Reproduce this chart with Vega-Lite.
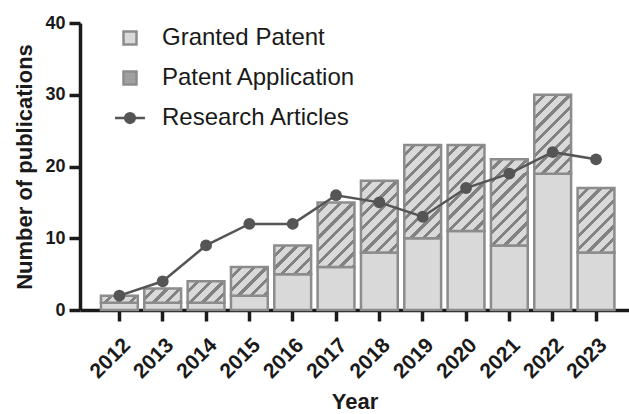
{
  "$schema": "https://vega.github.io/schema/vega-lite/v6.json",
  "width": 549,
  "height": 287,
  "autosize": {"type": "none"},
  "padding": {"left": 80, "top": 23, "right": 0, "bottom": 104},
  "background": "white",
  "config": {
    "view": {"stroke": null},
    "font": "Liberation Sans",
    "axis": {
      "domainColor": "#1a1a1a",
      "domainWidth": 3.5,
      "tickColor": "#1a1a1a",
      "tickWidth": 3.5,
      "tickSize": 11,
      "grid": false,
      "labelFont": "Liberation Sans",
      "labelFontWeight": "bold",
      "labelColor": "#1a1a1a",
      "titleFont": "Liberation Sans",
      "titleFontWeight": "bold",
      "titleFontSize": 22,
      "titleColor": "#1a1a1a"
    }
  },
  "data": {
    "values": [
      {"year": "2012", "series": "Granted Patent", "count": 1},
      {"year": "2012", "series": "Patent Application", "count": 1},
      {"year": "2012", "series": "Research Articles", "count": 2},
      {"year": "2013", "series": "Granted Patent", "count": 1},
      {"year": "2013", "series": "Patent Application", "count": 2},
      {"year": "2013", "series": "Research Articles", "count": 4},
      {"year": "2014", "series": "Granted Patent", "count": 1},
      {"year": "2014", "series": "Patent Application", "count": 3},
      {"year": "2014", "series": "Research Articles", "count": 9},
      {"year": "2015", "series": "Granted Patent", "count": 2},
      {"year": "2015", "series": "Patent Application", "count": 4},
      {"year": "2015", "series": "Research Articles", "count": 12},
      {"year": "2016", "series": "Granted Patent", "count": 5},
      {"year": "2016", "series": "Patent Application", "count": 4},
      {"year": "2016", "series": "Research Articles", "count": 12},
      {"year": "2017", "series": "Granted Patent", "count": 6},
      {"year": "2017", "series": "Patent Application", "count": 9},
      {"year": "2017", "series": "Research Articles", "count": 16},
      {"year": "2018", "series": "Granted Patent", "count": 8},
      {"year": "2018", "series": "Patent Application", "count": 10},
      {"year": "2018", "series": "Research Articles", "count": 15},
      {"year": "2019", "series": "Granted Patent", "count": 10},
      {"year": "2019", "series": "Patent Application", "count": 13},
      {"year": "2019", "series": "Research Articles", "count": 13},
      {"year": "2020", "series": "Granted Patent", "count": 11},
      {"year": "2020", "series": "Patent Application", "count": 12},
      {"year": "2020", "series": "Research Articles", "count": 17},
      {"year": "2021", "series": "Granted Patent", "count": 9},
      {"year": "2021", "series": "Patent Application", "count": 12},
      {"year": "2021", "series": "Research Articles", "count": 19},
      {"year": "2022", "series": "Granted Patent", "count": 19},
      {"year": "2022", "series": "Patent Application", "count": 11},
      {"year": "2022", "series": "Research Articles", "count": 22},
      {"year": "2023", "series": "Granted Patent", "count": 8},
      {"year": "2023", "series": "Patent Application", "count": 9},
      {"year": "2023", "series": "Research Articles", "count": 21}
    ]
  },
  "layer": [
    {
      "transform": [{"filter": "datum.series !== 'Research Articles'"}],
      "mark": {"type": "bar", "stroke": "#8c8c8c", "strokeWidth": 2.5},
      "encoding": {
        "x": {
          "field": "year", "type": "nominal",
          "scale": {"paddingInner": 0.15, "paddingOuter": 0.41, "align": 0.59},
          "axis": {"title": "Year", "labelAngle": -45, "labelFontSize": 21, "labelPadding": 13, "titlePadding": 10}
        },
        "y": {
          "field": "count", "type": "quantitative", "stack": "zero",
          "scale": {"domain": [0, 40], "nice": false},
          "axis": {"title": "Number of publications", "values": [0, 10, 20, 30, 40], "labelFontSize": 18, "labelPadding": 4, "titlePadding": 8}
        },
        "order": {"field": "series", "sort": "ascending"},
        "fill": {
          "field": "series", "type": "nominal",
          "scale": {"domain": ["Granted Patent", "Patent Application", "Research Articles"], "range": ["#d9d9d9", "#a0a0a0", "#555555"]},
          "legend": {
            "title": null,
            "orient": "none",
            "legendX": 38,
            "legendY": 3,
            "padding": 0,
            "labelFont": "Liberation Sans",
            "labelFontSize": 24,
            "labelColor": "#1a1a1a",
            "labelLimit": 500,
            "labelOffset": 20,
            "rowPadding": 16,
            "symbolSize": 169,
            "encoding": {
              "symbols": {
                "shape": {
                  "condition": {"test": "datum.value === 'Research Articles'", "value": "M-2.3,0H2.3M0.75,0A0.75,0.75,0,1,1,-0.75,0A0.75,0.75,0,1,1,0.75,0Z"},
                  "value": "square"
                },
                "stroke": {
                  "condition": {"test": "datum.value === 'Research Articles'", "value": "#555555"},
                  "value": "#8c8c8c"
                },
                "strokeWidth": {"value": 2.5},
                "opacity": {"value": 1}
              }
            }
          },
          "condition": [
            {"test": "datum.series === 'Patent Application' && datum.count === 1", "value": {"gradient": "linear", "x1": 0, "y1": 0, "x2": 1.151, "y2": 0.2245, "stops": [
              {"offset": 0, "color": "#d9d9d9"}, {"offset": 0.1927, "color": "#d9d9d9"}, {"offset": 0.1927, "color": "#828282"}, {"offset": 0.289, "color": "#828282"}, {"offset": 0.289, "color": "#d9d9d9"},
              {"offset": 0.4817, "color": "#d9d9d9"}, {"offset": 0.4817, "color": "#828282"}, {"offset": 0.578, "color": "#828282"}, {"offset": 0.578, "color": "#d9d9d9"},
              {"offset": 0.7707, "color": "#d9d9d9"}, {"offset": 0.7707, "color": "#828282"}, {"offset": 0.8671, "color": "#828282"}, {"offset": 0.8671, "color": "#d9d9d9"}, {"offset": 1, "color": "#d9d9d9"}]}},
            {"test": "datum.series === 'Patent Application' && datum.count === 2", "value": {"gradient": "linear", "x1": 0, "y1": 0, "x2": 1.2065, "y2": 0.4705, "stops": [
              {"offset": 0, "color": "#d9d9d9"}, {"offset": 0.1658, "color": "#d9d9d9"}, {"offset": 0.1658, "color": "#828282"}, {"offset": 0.2488, "color": "#828282"}, {"offset": 0.2488, "color": "#d9d9d9"},
              {"offset": 0.4146, "color": "#d9d9d9"}, {"offset": 0.4146, "color": "#828282"}, {"offset": 0.4975, "color": "#828282"}, {"offset": 0.4975, "color": "#d9d9d9"},
              {"offset": 0.6633, "color": "#d9d9d9"}, {"offset": 0.6633, "color": "#828282"}, {"offset": 0.7463, "color": "#828282"}, {"offset": 0.7463, "color": "#d9d9d9"},
              {"offset": 0.9121, "color": "#d9d9d9"}, {"offset": 0.9121, "color": "#828282"}, {"offset": 0.995, "color": "#828282"}, {"offset": 0.995, "color": "#d9d9d9"}, {"offset": 1, "color": "#d9d9d9"}]}},
            {"test": "datum.series === 'Patent Application' && datum.count === 3", "value": {"gradient": "linear", "x1": 0, "y1": 0, "x2": 1.181, "y2": 0.691, "stops": [
              {"offset": 0, "color": "#d9d9d9"}, {"offset": 0.1456, "color": "#d9d9d9"}, {"offset": 0.1456, "color": "#828282"}, {"offset": 0.2183, "color": "#828282"}, {"offset": 0.2183, "color": "#d9d9d9"},
              {"offset": 0.3639, "color": "#d9d9d9"}, {"offset": 0.3639, "color": "#828282"}, {"offset": 0.4367, "color": "#828282"}, {"offset": 0.4367, "color": "#d9d9d9"},
              {"offset": 0.5822, "color": "#d9d9d9"}, {"offset": 0.5822, "color": "#828282"}, {"offset": 0.655, "color": "#828282"}, {"offset": 0.655, "color": "#d9d9d9"},
              {"offset": 0.8006, "color": "#d9d9d9"}, {"offset": 0.8006, "color": "#828282"}, {"offset": 0.8734, "color": "#828282"}, {"offset": 0.8734, "color": "#d9d9d9"}, {"offset": 1, "color": "#d9d9d9"}]}},
            {"test": "datum.series === 'Patent Application' && datum.count === 4", "value": {"gradient": "linear", "x1": 0, "y1": 0, "x2": 1.1067, "y2": 0.863, "stops": [
              {"offset": 0, "color": "#d9d9d9"}, {"offset": 0.1297, "color": "#d9d9d9"}, {"offset": 0.1297, "color": "#828282"}, {"offset": 0.1946, "color": "#828282"}, {"offset": 0.1946, "color": "#d9d9d9"},
              {"offset": 0.3243, "color": "#d9d9d9"}, {"offset": 0.3243, "color": "#828282"}, {"offset": 0.3891, "color": "#828282"}, {"offset": 0.3891, "color": "#d9d9d9"},
              {"offset": 0.5188, "color": "#d9d9d9"}, {"offset": 0.5188, "color": "#828282"}, {"offset": 0.5837, "color": "#828282"}, {"offset": 0.5837, "color": "#d9d9d9"},
              {"offset": 0.7134, "color": "#d9d9d9"}, {"offset": 0.7134, "color": "#828282"}, {"offset": 0.7782, "color": "#828282"}, {"offset": 0.7782, "color": "#d9d9d9"},
              {"offset": 0.9079, "color": "#d9d9d9"}, {"offset": 0.9079, "color": "#828282"}, {"offset": 0.9728, "color": "#828282"}, {"offset": 0.9728, "color": "#d9d9d9"}, {"offset": 1, "color": "#d9d9d9"}]}},
            {"test": "datum.series === 'Patent Application' && datum.count === 9", "value": {"gradient": "linear", "x1": 0, "y1": 0, "x2": 0.675, "y2": 1.185, "stops": [
              {"offset": 0, "color": "#d9d9d9"}, {"offset": 0.0838, "color": "#d9d9d9"}, {"offset": 0.0838, "color": "#828282"}, {"offset": 0.1256, "color": "#828282"}, {"offset": 0.1256, "color": "#d9d9d9"},
              {"offset": 0.2094, "color": "#d9d9d9"}, {"offset": 0.2094, "color": "#828282"}, {"offset": 0.2513, "color": "#828282"}, {"offset": 0.2513, "color": "#d9d9d9"},
              {"offset": 0.335, "color": "#d9d9d9"}, {"offset": 0.335, "color": "#828282"}, {"offset": 0.3769, "color": "#828282"}, {"offset": 0.3769, "color": "#d9d9d9"},
              {"offset": 0.4606, "color": "#d9d9d9"}, {"offset": 0.4606, "color": "#828282"}, {"offset": 0.5025, "color": "#828282"}, {"offset": 0.5025, "color": "#d9d9d9"},
              {"offset": 0.5863, "color": "#d9d9d9"}, {"offset": 0.5863, "color": "#828282"}, {"offset": 0.6281, "color": "#828282"}, {"offset": 0.6281, "color": "#d9d9d9"},
              {"offset": 0.7119, "color": "#d9d9d9"}, {"offset": 0.7119, "color": "#828282"}, {"offset": 0.7538, "color": "#828282"}, {"offset": 0.7538, "color": "#d9d9d9"},
              {"offset": 0.8375, "color": "#d9d9d9"}, {"offset": 0.8375, "color": "#828282"}, {"offset": 0.8794, "color": "#828282"}, {"offset": 0.8794, "color": "#d9d9d9"},
              {"offset": 0.9631, "color": "#d9d9d9"}, {"offset": 0.9631, "color": "#828282"}, {"offset": 1, "color": "#828282"}]}},
            {"test": "datum.series === 'Patent Application' && datum.count === 10", "value": {"gradient": "linear", "x1": 0, "y1": 0, "x2": 0.614, "y2": 1.198, "stops": [
              {"offset": 0, "color": "#d9d9d9"}, {"offset": 0.0782, "color": "#d9d9d9"}, {"offset": 0.0782, "color": "#828282"}, {"offset": 0.1172, "color": "#828282"}, {"offset": 0.1172, "color": "#d9d9d9"},
              {"offset": 0.1954, "color": "#d9d9d9"}, {"offset": 0.1954, "color": "#828282"}, {"offset": 0.2345, "color": "#828282"}, {"offset": 0.2345, "color": "#d9d9d9"},
              {"offset": 0.3126, "color": "#d9d9d9"}, {"offset": 0.3126, "color": "#828282"}, {"offset": 0.3517, "color": "#828282"}, {"offset": 0.3517, "color": "#d9d9d9"},
              {"offset": 0.4299, "color": "#d9d9d9"}, {"offset": 0.4299, "color": "#828282"}, {"offset": 0.4689, "color": "#828282"}, {"offset": 0.4689, "color": "#d9d9d9"},
              {"offset": 0.5471, "color": "#d9d9d9"}, {"offset": 0.5471, "color": "#828282"}, {"offset": 0.5862, "color": "#828282"}, {"offset": 0.5862, "color": "#d9d9d9"},
              {"offset": 0.6643, "color": "#d9d9d9"}, {"offset": 0.6643, "color": "#828282"}, {"offset": 0.7034, "color": "#828282"}, {"offset": 0.7034, "color": "#d9d9d9"},
              {"offset": 0.7816, "color": "#d9d9d9"}, {"offset": 0.7816, "color": "#828282"}, {"offset": 0.8206, "color": "#828282"}, {"offset": 0.8206, "color": "#d9d9d9"},
              {"offset": 0.8988, "color": "#d9d9d9"}, {"offset": 0.8988, "color": "#828282"}, {"offset": 0.9379, "color": "#828282"}, {"offset": 0.9379, "color": "#d9d9d9"}, {"offset": 1, "color": "#d9d9d9"}]}},
            {"test": "datum.series === 'Patent Application' && datum.count === 11", "value": {"gradient": "linear", "x1": 0, "y1": 0, "x2": 0.5617, "y2": 1.204, "stops": [
              {"offset": 0, "color": "#d9d9d9"}, {"offset": 0.0733, "color": "#d9d9d9"}, {"offset": 0.0733, "color": "#828282"}, {"offset": 0.11, "color": "#828282"}, {"offset": 0.11, "color": "#d9d9d9"},
              {"offset": 0.1834, "color": "#d9d9d9"}, {"offset": 0.1834, "color": "#828282"}, {"offset": 0.22, "color": "#828282"}, {"offset": 0.22, "color": "#d9d9d9"},
              {"offset": 0.2934, "color": "#d9d9d9"}, {"offset": 0.2934, "color": "#828282"}, {"offset": 0.33, "color": "#828282"}, {"offset": 0.33, "color": "#d9d9d9"},
              {"offset": 0.4034, "color": "#d9d9d9"}, {"offset": 0.4034, "color": "#828282"}, {"offset": 0.44, "color": "#828282"}, {"offset": 0.44, "color": "#d9d9d9"},
              {"offset": 0.5134, "color": "#d9d9d9"}, {"offset": 0.5134, "color": "#828282"}, {"offset": 0.55, "color": "#828282"}, {"offset": 0.55, "color": "#d9d9d9"},
              {"offset": 0.6234, "color": "#d9d9d9"}, {"offset": 0.6234, "color": "#828282"}, {"offset": 0.6601, "color": "#828282"}, {"offset": 0.6601, "color": "#d9d9d9"},
              {"offset": 0.7334, "color": "#d9d9d9"}, {"offset": 0.7334, "color": "#828282"}, {"offset": 0.7701, "color": "#828282"}, {"offset": 0.7701, "color": "#d9d9d9"},
              {"offset": 0.8434, "color": "#d9d9d9"}, {"offset": 0.8434, "color": "#828282"}, {"offset": 0.8801, "color": "#828282"}, {"offset": 0.8801, "color": "#d9d9d9"},
              {"offset": 0.9534, "color": "#d9d9d9"}, {"offset": 0.9534, "color": "#828282"}, {"offset": 0.9901, "color": "#828282"}, {"offset": 0.9901, "color": "#d9d9d9"}, {"offset": 1, "color": "#d9d9d9"}]}},
            {"test": "datum.series === 'Patent Application' && datum.count === 12", "value": {"gradient": "linear", "x1": 0, "y1": 0, "x2": 0.5158, "y2": 1.207, "stops": [
              {"offset": 0, "color": "#d9d9d9"}, {"offset": 0.0691, "color": "#d9d9d9"}, {"offset": 0.0691, "color": "#828282"}, {"offset": 0.1036, "color": "#828282"}, {"offset": 0.1036, "color": "#d9d9d9"},
              {"offset": 0.1727, "color": "#d9d9d9"}, {"offset": 0.1727, "color": "#828282"}, {"offset": 0.2073, "color": "#828282"}, {"offset": 0.2073, "color": "#d9d9d9"},
              {"offset": 0.2763, "color": "#d9d9d9"}, {"offset": 0.2763, "color": "#828282"}, {"offset": 0.3109, "color": "#828282"}, {"offset": 0.3109, "color": "#d9d9d9"},
              {"offset": 0.38, "color": "#d9d9d9"}, {"offset": 0.38, "color": "#828282"}, {"offset": 0.4145, "color": "#828282"}, {"offset": 0.4145, "color": "#d9d9d9"},
              {"offset": 0.4836, "color": "#d9d9d9"}, {"offset": 0.4836, "color": "#828282"}, {"offset": 0.5181, "color": "#828282"}, {"offset": 0.5181, "color": "#d9d9d9"},
              {"offset": 0.5872, "color": "#d9d9d9"}, {"offset": 0.5872, "color": "#828282"}, {"offset": 0.6218, "color": "#828282"}, {"offset": 0.6218, "color": "#d9d9d9"},
              {"offset": 0.6908, "color": "#d9d9d9"}, {"offset": 0.6908, "color": "#828282"}, {"offset": 0.7254, "color": "#828282"}, {"offset": 0.7254, "color": "#d9d9d9"},
              {"offset": 0.7945, "color": "#d9d9d9"}, {"offset": 0.7945, "color": "#828282"}, {"offset": 0.829, "color": "#828282"}, {"offset": 0.829, "color": "#d9d9d9"},
              {"offset": 0.8981, "color": "#d9d9d9"}, {"offset": 0.8981, "color": "#828282"}, {"offset": 0.9326, "color": "#828282"}, {"offset": 0.9326, "color": "#d9d9d9"}, {"offset": 1, "color": "#d9d9d9"}]}},
            {"test": "datum.series === 'Patent Application' && datum.count === 13", "value": {"gradient": "linear", "x1": 0, "y1": 0, "x2": 0.476, "y2": 1.207, "stops": [
              {"offset": 0, "color": "#d9d9d9"}, {"offset": 0.0652, "color": "#d9d9d9"}, {"offset": 0.0652, "color": "#828282"}, {"offset": 0.0978, "color": "#828282"}, {"offset": 0.0978, "color": "#d9d9d9"},
              {"offset": 0.1631, "color": "#d9d9d9"}, {"offset": 0.1631, "color": "#828282"}, {"offset": 0.1957, "color": "#828282"}, {"offset": 0.1957, "color": "#d9d9d9"},
              {"offset": 0.2609, "color": "#d9d9d9"}, {"offset": 0.2609, "color": "#828282"}, {"offset": 0.2935, "color": "#828282"}, {"offset": 0.2935, "color": "#d9d9d9"},
              {"offset": 0.3588, "color": "#d9d9d9"}, {"offset": 0.3588, "color": "#828282"}, {"offset": 0.3914, "color": "#828282"}, {"offset": 0.3914, "color": "#d9d9d9"},
              {"offset": 0.4566, "color": "#d9d9d9"}, {"offset": 0.4566, "color": "#828282"}, {"offset": 0.4892, "color": "#828282"}, {"offset": 0.4892, "color": "#d9d9d9"},
              {"offset": 0.5545, "color": "#d9d9d9"}, {"offset": 0.5545, "color": "#828282"}, {"offset": 0.5871, "color": "#828282"}, {"offset": 0.5871, "color": "#d9d9d9"},
              {"offset": 0.6523, "color": "#d9d9d9"}, {"offset": 0.6523, "color": "#828282"}, {"offset": 0.6849, "color": "#828282"}, {"offset": 0.6849, "color": "#d9d9d9"},
              {"offset": 0.7502, "color": "#d9d9d9"}, {"offset": 0.7502, "color": "#828282"}, {"offset": 0.7828, "color": "#828282"}, {"offset": 0.7828, "color": "#d9d9d9"},
              {"offset": 0.848, "color": "#d9d9d9"}, {"offset": 0.848, "color": "#828282"}, {"offset": 0.8806, "color": "#828282"}, {"offset": 0.8806, "color": "#d9d9d9"},
              {"offset": 0.9459, "color": "#d9d9d9"}, {"offset": 0.9459, "color": "#828282"}, {"offset": 0.9785, "color": "#828282"}, {"offset": 0.9785, "color": "#d9d9d9"}, {"offset": 1, "color": "#d9d9d9"}]}}
          ]
        }
      }
    },
    {
      "transform": [{"filter": "datum.series === 'Research Articles'"}],
      "mark": {"type": "line", "color": "#555555", "strokeWidth": 2.5, "point": {"filled": true, "size": 140, "color": "#555555"}},
      "encoding": {
        "x": {"field": "year", "type": "nominal", "scale": {"paddingInner": 0.15, "paddingOuter": 0.41, "align": 0.59}},
        "y": {"field": "count", "type": "quantitative"}
      }
    }
  ]
}
